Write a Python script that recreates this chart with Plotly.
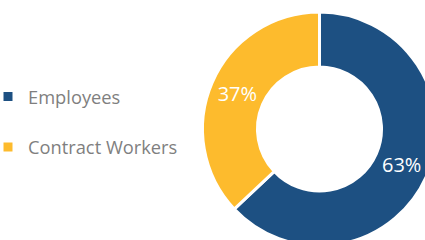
import plotly.graph_objects as go

labels = ["Employees", "Contract Workers"]
values = [63, 37]
colors = ["#1D5082", "#FDBB2D"]

W, H = 446, 260
cx, cy, rd = 319.5, 129, 117

fig = go.Figure(go.Pie(
    labels=[l + "<br> " for l in labels],
    values=values,
    sort=False,
    direction="clockwise",
    rotation=0,
    hole=0.53,
    marker=dict(colors=colors, line=dict(color="white", width=3)),
    textinfo="percent",
    textposition="inside",
    insidetextorientation="horizontal",
    textfont=dict(family="Open Sans", size=20, color="white"),
    domain=dict(x=[(cx - rd) / W, (cx + rd) / W],
                y=[1 - (cy + rd) / H, 1 - (cy - rd) / H]),
    hoverinfo="label+percent",
))

fig.update_layout(
    width=W, height=H,
    margin=dict(l=0, r=0, t=0, b=0, autoexpand=False),
    paper_bgcolor="white",
    showlegend=True,
    legend=dict(
        x=-12 / W, xanchor="left",
        y=1 - 78 / H, yanchor="top",
        font=dict(family="Open Sans", size=18.3, color="#7F7F7F"),
        valign="top",
        bgcolor="rgba(0,0,0,0)",
    ),
)

fig.write_html(
    "out.html",
    config={"displayModeBar": False},
    post_script="document.body.style.margin='0';document.body.style.overflow='hidden';",
)
